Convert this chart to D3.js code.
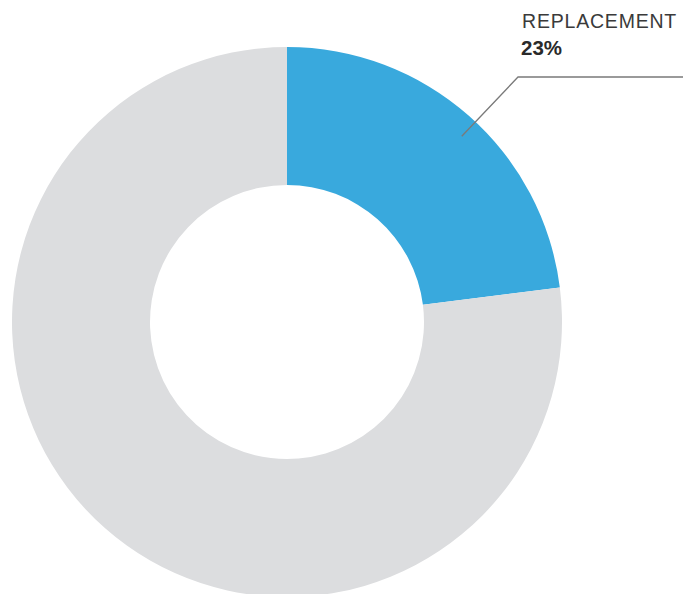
<!DOCTYPE html>
<html>
<head>
<meta charset="utf-8">
<script src="https://cdn.jsdelivr.net/npm/d3@7/dist/d3.min.js"></script>
<style>
  html, body { margin: 0; padding: 0; background: #fff; }
  svg { display: block; }
</style>
</head>
<body>
<script>
// Share of the total by category
const categories = ["REPLACEMENT", "OTHER"];
const shares = [23, 77];
const colors = ["#39a9dd", "#dcdddf"];

const width = 683, height = 594;
const cx = 287, cy = 322;
const outerR = 275, innerR = 137;

const svg = d3.select("body").append("svg")
  .attr("width", width).attr("height", height);

const pie = d3.pie().sort(null).value(d => d);
const arcs = pie(shares);
const arc = d3.arc().innerRadius(innerR).outerRadius(outerR);

const g = svg.append("g").attr("transform", `translate(${cx},${cy})`);
g.selectAll("path")
  .data(arcs)
  .join("path")
  .attr("d", arc)
  .attr("fill", (d, i) => colors[i]);

// Leader line from the highlighted slice to its label
const a = arcs[0];
const ang = (a.startAngle + a.endAngle) / 2 * 1.045;
const r0 = 255;
const p0 = [cx + r0 * Math.sin(ang), cy - r0 * Math.cos(ang)];
const elbow = [518, 77];
svg.append("polyline")
  .attr("points", [p0, elbow, [width, elbow[1]]].map(p => p.join(",")).join(" "))
  .attr("fill", "none")
  .attr("stroke", "#7a7a7a")
  .attr("stroke-width", 1.3);

svg.append("text")
  .attr("x", 522).attr("y", 28)
  .attr("font-family", "Liberation Sans, Arial, sans-serif")
  .attr("font-size", 19.5)
  .attr("letter-spacing", 0.8)
  .attr("fill", "#3a3a3a")
  .text(categories[0]);

svg.append("text")
  .attr("x", 521).attr("y", 55)
  .attr("font-family", "Liberation Sans, Arial, sans-serif")
  .attr("font-size", 20.5)
  .attr("font-weight", "bold")
  .attr("fill", "#2a2a2a")
  .text(shares[0] + "%");
</script>
</body>
</html>
